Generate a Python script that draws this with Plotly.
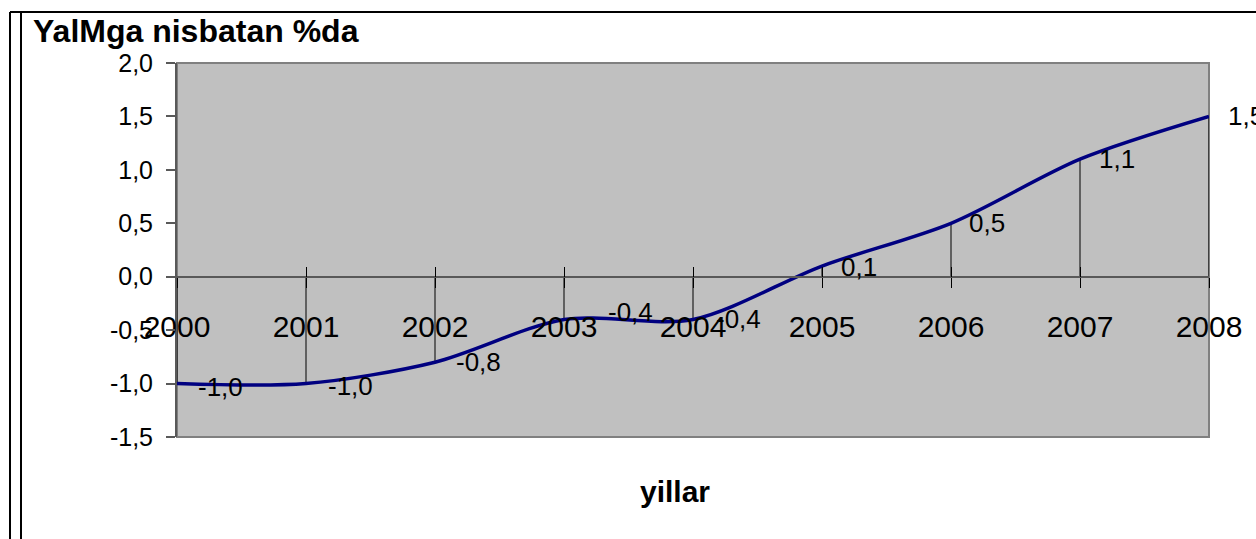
import plotly.graph_objects as go

# Year-on-year change, percent
years = [2000, 2001, 2002, 2003, 2004, 2005, 2006, 2007, 2008]
values = [-1.0, -1.0, -0.8, -0.4, -0.4, 0.1, 0.5, 1.1, 1.5]
y_ticks = [-1.5, -1.0, -0.5, 0.0, 0.5, 1.0, 1.5, 2.0]

# Per-label nudges (pixels) for the value labels
label_dx = [19, 20, 19, 42, 21, 17, 16, 17, 17]
label_dy = [-3, -2, 0, 7, 0, -1, 0, 0, 0]

W, H = 1256, 539
ML, MR, MT, MB = 177, 47, 63, 102
PW, PH = W - ML - MR, H - MT - MB
Y_MIN, Y_MAX = -1.5, 2.0
FONT = "Liberation Sans, Arial, sans-serif"


def fmt(v):
    return f"{v:.1f}".replace(".", ",")


def xp(px):
    return (px - ML) / PW


def yp(py):
    return (H - MB - py) / PH


zero_pos = (0 - Y_MIN) / (Y_MAX - Y_MIN)

fig = go.Figure()

# Drop lines from each point to the zero axis
drop_x, drop_y = [], []
for yr, v in zip(years, values):
    drop_x += [yr, yr, None]
    drop_y += [0, v, None]
fig.add_trace(go.Scatter(
    x=drop_x, y=drop_y, mode="lines",
    line=dict(color="black", width=1),
    hoverinfo="skip", showlegend=False,
))

# Smoothed series line
fig.add_trace(go.Scatter(
    x=years, y=values, mode="lines",
    line=dict(color="#000080", width=3.5, shape="spline", smoothing=0.85),
    showlegend=False,
))

# Value labels
for yr, v, dx, dy in zip(years, values, label_dx, label_dy):
    fig.add_annotation(
        x=yr, y=v, xref="x", yref="y", text=fmt(v), showarrow=False,
        xanchor="left", yanchor="middle", xshift=dx, yshift=dy,
        font=dict(family=FONT, size=26, color="black"),
    )

# Axis title
fig.add_annotation(
    x=xp(675), y=yp(492), xref="paper", yref="paper", text="<b>yillar</b>",
    showarrow=False, xanchor="center", yanchor="middle",
    font=dict(family=FONT, size=30, color="black"),
)

# Plot area frame
fig.add_shape(type="rect", xref="paper", yref="paper", x0=0, x1=1, y0=0, y1=1,
              line=dict(color="#808080", width=2), layer="below")

# Outer chart border
border = dict(color="black", width=2)
fig.add_shape(type="line", xref="paper", yref="paper",
              x0=xp(10), x1=xp(W + 5), y0=yp(12), y1=yp(12), line=border)
fig.add_shape(type="line", xref="paper", yref="paper",
              x0=xp(10), x1=xp(10), y0=yp(12), y1=yp(H + 5), line=border)
fig.add_shape(type="line", xref="paper", yref="paper",
              x0=xp(21), x1=xp(21), y0=yp(12), y1=yp(H + 5), line=border)

fig.update_layout(
    width=W, height=H,
    margin=dict(l=ML, r=MR, t=MT, b=MB, pad=0),
    paper_bgcolor="white",
    plot_bgcolor="#C0C0C0",
    font=dict(family=FONT, color="black"),
    title=dict(
        text="<b>YalMga nisbatan %da</b>",
        xref="container", yref="container",
        x=33 / W, y=1 - 31 / H, xanchor="left", yanchor="middle",
        font=dict(family=FONT, size=32, color="black"),
    ),
    xaxis=dict(
        range=[years[0], years[-1]],
        tickmode="array", tickvals=years, ticktext=[str(y) for y in years],
        anchor="free", position=zero_pos,
        showline=True, linecolor="#595959", linewidth=2,
        ticks="outside", ticklen=10, tickwidth=1, tickcolor="black",
        tickfont=dict(family=FONT, size=30, color="black"),
        ticklabelstandoff=13,
        showgrid=False, zeroline=False,
    ),
    xaxis2=dict(
        range=[years[0], years[-1]], overlaying="x", matches="x",
        tickmode="array", tickvals=years,
        anchor="free", position=zero_pos,
        showline=False, showticklabels=False,
        ticks="inside", ticklen=10, tickwidth=1, tickcolor="black",
        showgrid=False, zeroline=False,
    ),
    yaxis=dict(
        range=[Y_MIN, Y_MAX],
        tickmode="array", tickvals=y_ticks, ticktext=[fmt(t) for t in y_ticks],
        showline=True, linecolor="#595959", linewidth=2,
        ticks="outside", ticklen=9, tickwidth=2, tickcolor="#595959",
        tickfont=dict(family=FONT, size=25, color="black"),
        ticklabelstandoff=8,
        showgrid=False, zeroline=False,
    ),
)

# Empty trace so the crossing tick marks of xaxis2 are drawn
fig.add_trace(go.Scatter(x=[years[0]], y=[None], xaxis="x2", yaxis="y",
                         mode="lines", showlegend=False, hoverinfo="skip"))

fig.write_html("out.html")
